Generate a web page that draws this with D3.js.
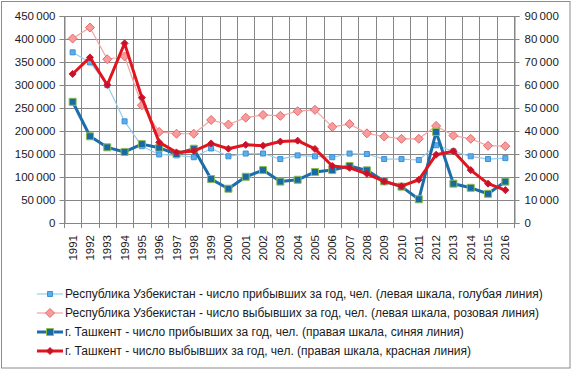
<!DOCTYPE html>
<html>
<head>
<meta charset="utf-8">
<script src="https://cdnjs.cloudflare.com/ajax/libs/d3/7.8.5/d3.min.js"></script>
<style>
  body { margin: 0; background: #fff; }
  svg { display: block; font-family: "Liberation Sans", Arial, sans-serif; }
</style>
</head>
<body>
<div class="svg-container"></div>
<script>
// data
const years = ['1991','1992','1993','1994','1995','1996','1997','1998','1999','2000','2001','2002','2003',
  '2004','2005','2006','2007','2008','2009','2010','2011','2012','2013','2014','2015','2016'];

// Республика Узбекистан (left scale)
const uzArrived = [371000, 349000, 300000, 221000, 167000, 149000, 147000, 143000, 162000, 145000, 151000, 151000, 139000,
  147000, 145000, 143000, 151000, 150000, 139000, 139000, 137000, 169000, 156000, 145000, 139000, 141000];
const uzLeft = [401000, 425000, 356000, 362000, 256000, 198000, 194000, 194000, 224000, 214000, 229000, 235000, 233000,
  243000, 246000, 209000, 215000, 195000, 188000, 183000, 183000, 211000, 190000, 183000, 168000, 167000];

// г. Ташкент (right scale)
const tashArrived = [52700, 37700, 32900, 30900, 34300, 32700, 30000, 32300, 19100, 14900, 20100, 23000, 18000,
  18800, 22200, 23000, 24800, 22900, 18100, 15800, 10300, 39600, 17100, 15300, 12700, 18000];
const tashLeft = [64800, 72000, 60000, 78100, 54500, 35100, 30700, 31300, 34600, 32300, 34000, 33600, 35400,
  35800, 32200, 24800, 24000, 21400, 18100, 16000, 18800, 29700, 31200, 23000, 17100, 14300];

const leftTicks = d3.range(0, 450001, 50000);
const rightTicks = d3.range(0, 90001, 10000);

const legendLabels = [
  'Республика Узбекистан - число прибывших за год, чел. (левая шкала, голубая линия)',
  'Республика Узбекистан - число выбывших за год, чел. (левая шкала, розовая линия)',
  'г. Ташкент - число прибывших за год, чел. (правая шкала, синяя линия)',
  'г. Ташкент - число выбывших за год, чел. (правая шкала, красная линия)'
];

const width = 572;
const height = 371;
const plot = { left: 64, right: 514, top: 16, bottom: 223 };

const svg = d3.select('.svg-container')
  .append('svg')
  .attr('width', width)
  .attr('height', height);

// outer frame
svg.append('rect')
  .attr('x', 1.5).attr('y', 1.5)
  .attr('width', width - 3.5).attr('height', height - 4.5)
  .attr('fill', 'none')
  .attr('stroke', '#8c8c8c');

const x = d3.scaleBand().domain(years).range([plot.left, plot.right]).padding(0);
const yL = d3.scaleLinear().domain([0, 450000]).range([plot.bottom, plot.top]);
const yR = d3.scaleLinear().domain([0, 90000]).range([plot.bottom, plot.top]);
const fmt = v => d3.format(',')(v).replace(/,/g, '\u2009');

const grid = '#868686';

// horizontal gridlines
svg.append('g').selectAll('line')
  .data(leftTicks)
  .enter().append('line')
  .attr('x1', plot.left).attr('x2', plot.right)
  .attr('y1', d => Math.round(yL(d)) + 0.5)
  .attr('y2', d => Math.round(yL(d)) + 0.5)
  .attr('stroke', grid);

// vertical gridlines at category boundaries
const bounds = years.map(d => x(d)).concat([plot.right]);
svg.append('g').selectAll('line')
  .data(bounds)
  .enter().append('line')
  .attr('x1', d => Math.round(d) + 0.5).attr('x2', d => Math.round(d) + 0.5)
  .attr('y1', plot.top).attr('y2', plot.bottom + 5)
  .attr('stroke', grid);

// left axis
const leftAxis = svg.append('g')
  .attr('transform', `translate(${plot.left + 0.5},0)`)
  .call(d3.axisLeft(yL).tickValues(leftTicks).tickFormat(fmt).tickSize(5).tickPadding(4));

// right axis
const rightAxis = svg.append('g')
  .attr('transform', `translate(${plot.right + 0.5},0)`)
  .call(d3.axisRight(yR).tickValues(rightTicks).tickFormat(fmt).tickSize(5).tickPadding(5));

[leftAxis, rightAxis].forEach(a => {
  a.select('.domain').attr('stroke', grid);
  a.selectAll('.tick line').attr('stroke', grid);
  a.selectAll('.tick text').attr('font-size', 11.5).attr('fill', '#1a1a1a')
    .attr('font-family', '"Liberation Sans", Arial, sans-serif');
});

// year labels
svg.append('g').selectAll('text')
  .data(years)
  .enter().append('text')
  .attr('transform', d => `translate(${x(d) + x.bandwidth() / 2 + 4},${plot.bottom + 12}) rotate(-90)`)
  .attr('text-anchor', 'end')
  .attr('font-size', 11.5)
  .attr('fill', '#1a1a1a')
  .text(d => d);

const series = [
  { values: uzArrived, y: yL, line: '#93cdf0', width: 1.2, marker: 'square', size: 5, fill: '#5aaeea', stroke: '#3d8fd6' },
  { values: uzLeft, y: yL, line: '#f4a3a3', width: 1.2, marker: 'diamond', size: 9, fill: '#f79c9c', stroke: '#e46a6a' },
  { values: tashArrived, y: yR, line: '#1c6eaa', width: 3, marker: 'square', size: 7, fill: '#176aa6', stroke: '#8fbc4f' },
  { values: tashLeft, y: yR, line: '#e3141e', width: 3, marker: 'diamond', size: 7, fill: '#c8102a', stroke: '#d11a2a' }
];

function markerPath(type, s) {
  const h = s / 2;
  if (type === 'square') return `M${-h},${-h}H${h}V${h}H${-h}Z`;
  return `M0,${-h}L${h},0L0,${h}L${-h},0Z`;
}

series.forEach(s => {
  const line = d3.line()
    .x((d, i) => x(years[i]) + x.bandwidth() / 2)
    .y(d => s.y(d));
  svg.append('path')
    .datum(s.values)
    .attr('d', line)
    .attr('fill', 'none')
    .attr('stroke', s.line)
    .attr('stroke-width', s.width)
    .attr('stroke-linejoin', 'round');
  svg.append('g').selectAll('path')
    .data(s.values)
    .enter().append('path')
    .attr('d', markerPath(s.marker, s.size))
    .attr('transform', (d, i) => `translate(${x(years[i]) + x.bandwidth() / 2},${s.y(d)})`)
    .attr('fill', s.fill)
    .attr('stroke', s.stroke)
    .attr('stroke-width', 1);
});

// legend
const legendX = 37;
const legendY = 294;
const legendStep = 19;
const legend = svg.append('g');
series.forEach((s, i) => {
  const ly = legendY + i * legendStep;
  legend.append('line')
    .attr('x1', legendX).attr('x2', legendX + 26)
    .attr('y1', ly).attr('y2', ly)
    .attr('stroke', s.line)
    .attr('stroke-width', s.width);
  legend.append('path')
    .attr('d', markerPath(s.marker, s.size))
    .attr('transform', `translate(${legendX + 13},${ly})`)
    .attr('fill', s.fill)
    .attr('stroke', s.stroke);
  legend.append('text')
    .attr('x', legendX + 28)
    .attr('y', ly + 4)
    .attr('font-size', 12)
    .attr('fill', '#1a1a1a')
    .text(legendLabels[i]);
});
</script>
</body>
</html>
